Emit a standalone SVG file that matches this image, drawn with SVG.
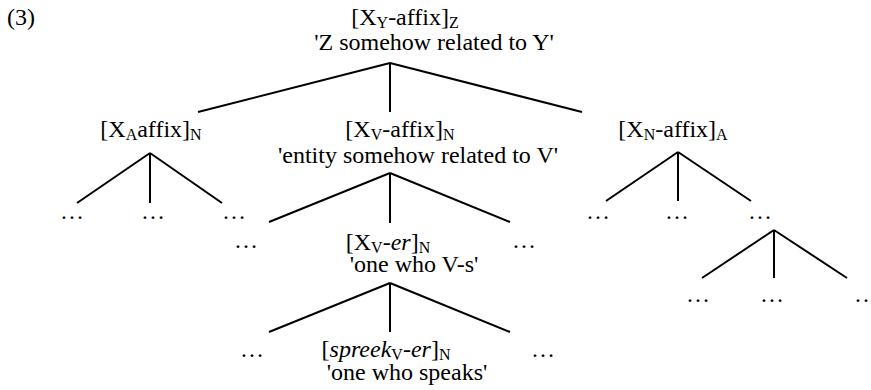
<svg xmlns="http://www.w3.org/2000/svg" width="871" height="390" viewBox="0 0 871 390">
<style>
text{font-family:"Liberation Serif","Times New Roman",serif;font-size:24px;fill:#000}
.m{text-anchor:middle}
.s{font-size:16px}
.i{font-style:italic}
#connectors line{stroke:#000;stroke-width:2}
</style>
<rect width="871" height="390" fill="#fff"/>
<g id="connectors">
<line x1="390" y1="63" x2="198" y2="112"/><line x1="390" y1="63" x2="390" y2="112"/><line x1="390" y1="63" x2="582" y2="112"/>
<line x1="150" y1="153" x2="77" y2="203"/><line x1="150" y1="153" x2="150" y2="203"/><line x1="150" y1="153" x2="222" y2="203"/>
<line x1="390" y1="173" x2="269" y2="222"/><line x1="390" y1="173" x2="390" y2="223"/><line x1="390" y1="173" x2="510" y2="222"/>
<line x1="678" y1="152" x2="606" y2="201"/><line x1="678" y1="152" x2="678" y2="201"/><line x1="678" y1="152" x2="751" y2="201"/>
<line x1="774" y1="230" x2="702" y2="278"/><line x1="774" y1="230" x2="774" y2="278"/><line x1="774" y1="230" x2="847" y2="278"/>
<line x1="390" y1="283" x2="269" y2="332"/><line x1="390" y1="283" x2="390" y2="332"/><line x1="390" y1="283" x2="510" y2="332"/>
</g>
<g id="label-3"><text x="7" y="25">(3)</text></g>
<g id="n-root">
<text class="m" x="405" y="25">[X<tspan class="s" dy="3">Y</tspan><tspan dy="-3">-affix]</tspan><tspan class="s" dy="3">Z</tspan></text>
<text class="m" x="434" y="50">'Z somehow related to Y'</text>
</g>
<g id="n-xa">
<text class="m" x="151" y="137">[X<tspan class="s" dy="3">A</tspan><tspan dy="-3">affix]</tspan><tspan class="s" dy="3">N</tspan></text>
</g>
<g id="n-xv">
<text class="m" x="400" y="137">[X<tspan class="s" dy="3">V</tspan><tspan dy="-3">-affix]</tspan><tspan class="s" dy="3">N</tspan></text>
<text class="m" x="418" y="163">'entity somehow related to V'</text>
</g>
<g id="n-xn">
<text class="m" x="673" y="137">[X<tspan class="s" dy="3">N</tspan><tspan dy="-3">-affix]</tspan><tspan class="s" dy="3">A</tspan></text>
</g>
<g id="n-xver">
<text class="m" x="388" y="250">[X<tspan class="s" dy="3">V</tspan><tspan dy="-3">-</tspan><tspan class="i">er</tspan>]<tspan class="s" dy="3">N</tspan></text>
<text class="m" x="414" y="272">'one who V-s'</text>
</g>
<g id="n-spreek">
<text class="m" x="386" y="357">[<tspan class="i">spreek</tspan><tspan class="s" dy="3">V</tspan><tspan dy="-3">-</tspan><tspan class="i">er</tspan>]<tspan class="s" dy="3">N</tspan></text>
<text class="m" x="407" y="380">'one who speaks'</text>
</g>
<g id="dots">
<text class="m" x="72" y="219">…</text><text class="m" x="153" y="219">…</text><text class="m" x="234" y="219">…</text>
<text class="m" x="598" y="219">…</text><text class="m" x="677" y="219">…</text><text class="m" x="760" y="219">…</text>
<text class="m" x="246" y="248">…</text><text class="m" x="524" y="248">…</text>
<text class="m" x="698" y="302">…</text><text class="m" x="772" y="302">…</text><text class="m" x="866" y="302">…</text>
<text class="m" x="252" y="357">…</text><text class="m" x="543" y="357">…</text>
</g>
</svg>
